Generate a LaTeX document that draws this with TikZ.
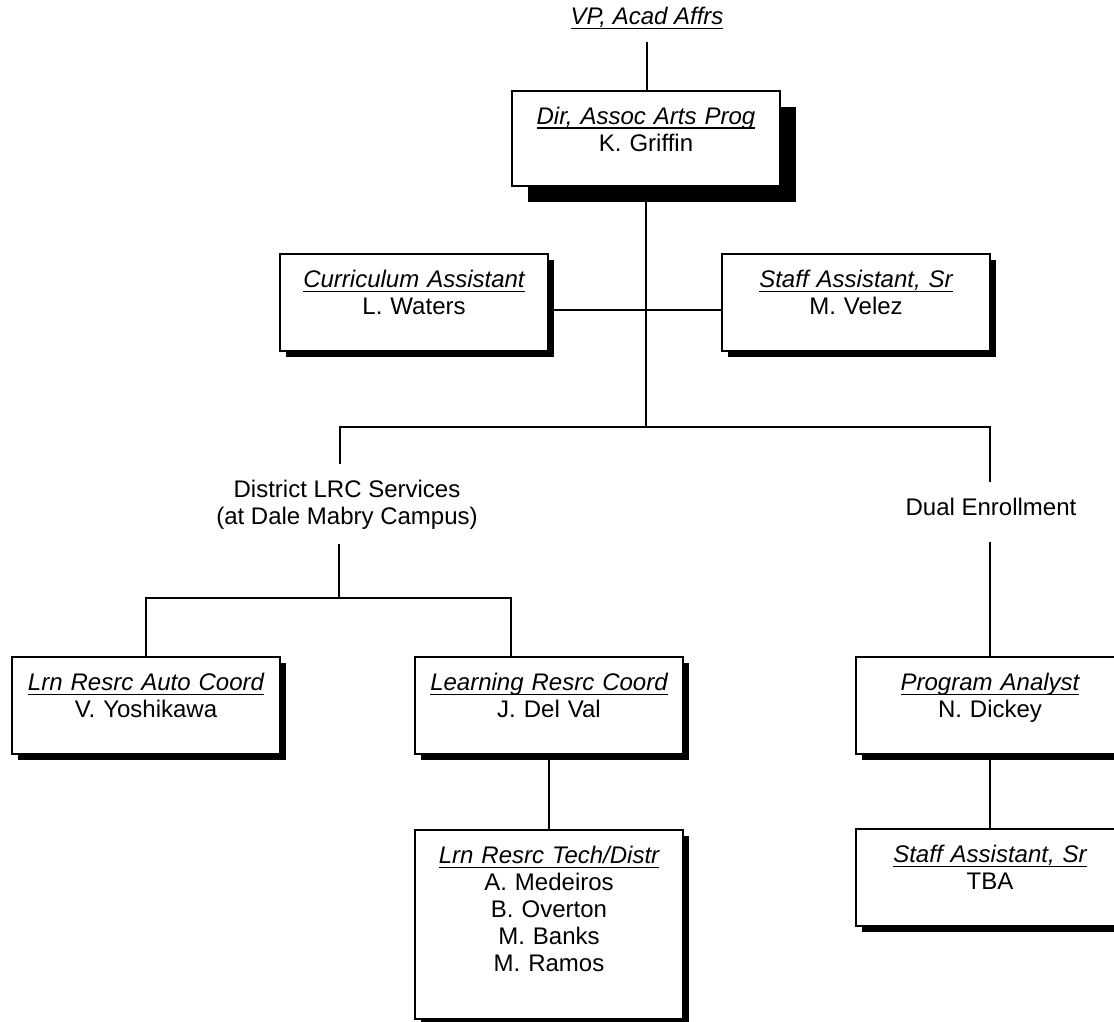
\documentclass[tikz,border=0pt]{standalone}
\usepackage{fontspec}
\setmainfont{Liberation Sans}
\usetikzlibrary{shadows}

\newcommand{\jobtitle}[1]{%
  \setbox0\hbox{\itshape #1}\rlap{\rule[-4.5pt]{\wd0}{1.8pt}}\box0}

\begin{document}
\begin{tikzpicture}[x=1pt, y=-1pt,
  every node/.style={font=\fontsize{24}{27}\selectfont},
  boxbase/.style={draw, line width=1.6pt, fill=white, anchor=north, text width=268pt,
    inner xsep=0pt, inner ysep=0pt, align=center, text height=34pt, text depth=63pt},
  drop/.style={general shadow={fill=black, shadow xshift=#1, shadow yshift=-#1}},
  post/.style={boxbase, drop=6pt},
  head/.style={boxbase, text depth=61pt, drop=16pt},
  unit/.style={align=center, inner sep=15pt},
  link/.style={line width=1.6pt}]
  \useasboundingbox (0,0) rectangle (1114,1022);

  % Top of the chart
  \node[anchor=base, inner sep=12pt] (vp) at (647,25) {\jobtitle{VP, Acad Affrs}};
  \node[head] (dir) at (646,90) {\jobtitle{Dir, Assoc Arts Prog}\\K. Griffin};

  % Staff beside the director
  \node[post] (cur) at (414,253) {\jobtitle{Curriculum Assistant}\\L. Waters};
  \node[post] (sas) at (856,253) {\jobtitle{Staff Assistant, Sr}\\M. Velez};

  % Units
  \node[unit, anchor=base] (lrc) at (347,524) {District LRC Services\\(at Dale Mabry Campus)};
  \node[unit, anchor=base, text depth=12pt] (dual) at (991,515) {Dual Enrollment};

  % LRC staff
  \node[post] (auto) at (146,656) {\jobtitle{Lrn Resrc Auto Coord}\\V. Yoshikawa};
  \node[post] (lrn) at (549,656) {\jobtitle{Learning Resrc Coord}\\J. Del Val};
  \node[post, text depth=155pt] (tech) at (549,829) {\jobtitle{Lrn Resrc Tech/Distr}\\A. Medeiros\\B. Overton\\M. Banks\\M. Ramos};

  % Dual enrollment staff
  \node[post] (pa) at (990,656) {\jobtitle{Program Analyst}\\N. Dickey};
  \node[post] (tba) at (990,828) {\jobtitle{Staff Assistant, Sr}\\TBA};

  % Connectors
  \coordinate (hub) at (646,427);
  \coordinate (side) at (646,310);
  \coordinate (lrcTop) at (340,427);
  \coordinate (dualTop) at (990,427);
  \coordinate (lrcHub) at (339,598);
  \coordinate (lrnDrop) at (511,598);
  \draw[link] (vp.south) -- (vp.south |- dir.north);
  \draw[link] (dir.south) -- (hub);
  \draw[link] (side -| cur.east) -- (side -| sas.west);
  \draw[link] (lrc.north -| lrcTop) -- (lrcTop) -- (dualTop) -- (dual.north -| dualTop);
  \draw[link] (lrc.south -| lrcHub) -- (lrcHub);
  \draw[link] (auto.north) |- (lrnDrop) -- (lrn.north -| lrnDrop);
  \draw[link] (dual.south -| dualTop) -- (pa.north -| dualTop);
  \draw[link] (lrn.south) -- (tech.north);
  \draw[link] (pa.south) -- (tba.north);
\end{tikzpicture}
\end{document}
